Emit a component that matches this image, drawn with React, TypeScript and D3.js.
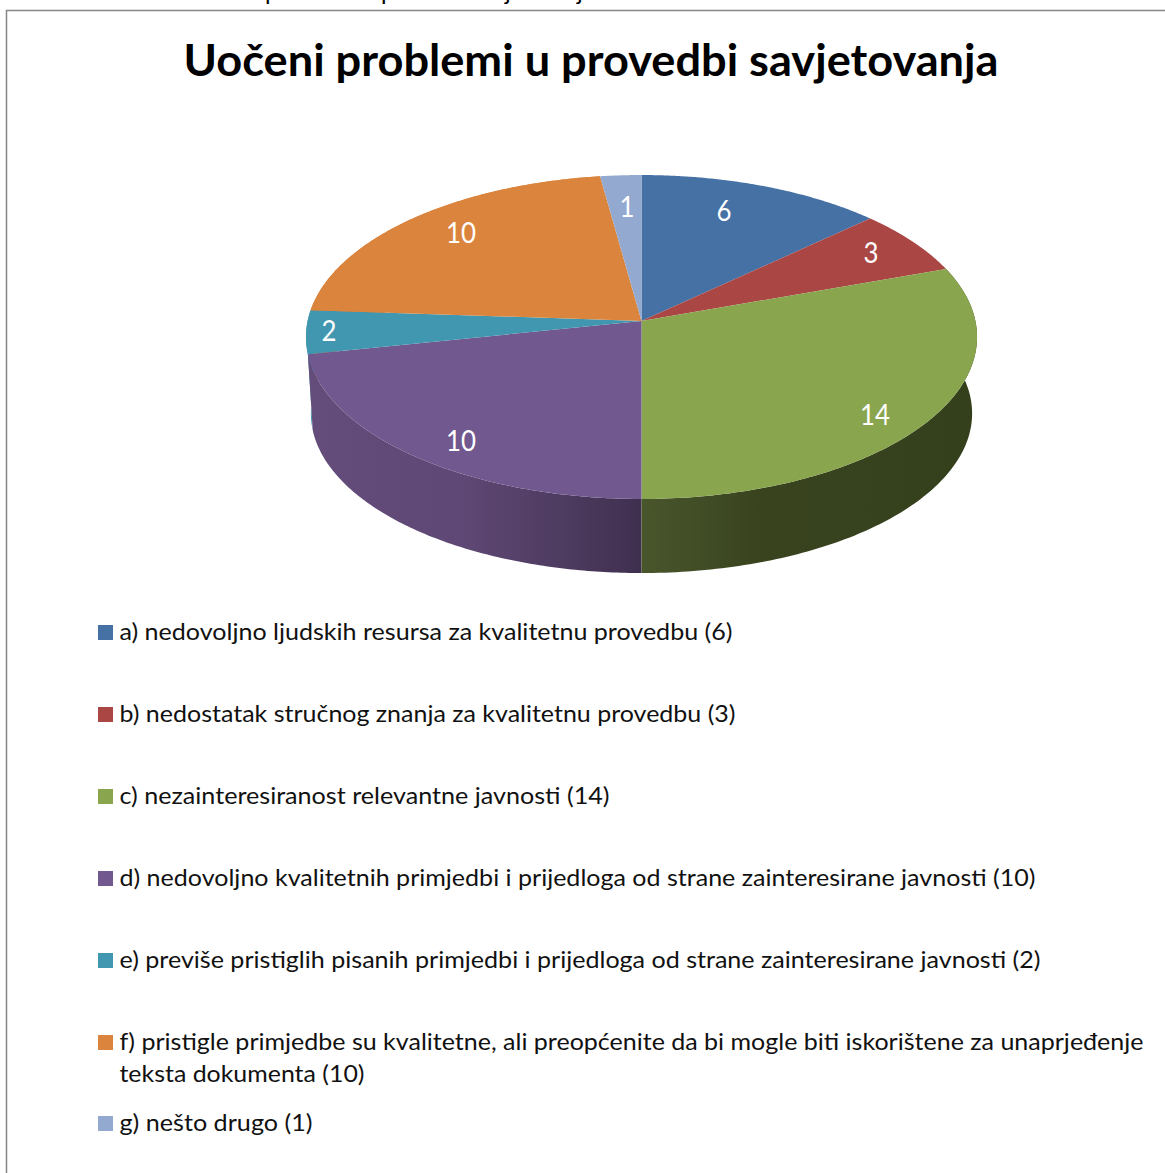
import React from 'react';
import * as d3 from 'd3';

const categories = [
  'a) nedovoljno ljudskih resursa za kvalitetnu provedbu (6)',
  'b) nedostatak stručnog znanja za kvalitetnu provedbu (3)',
  'c) nezainteresiranost relevantne javnosti (14)',
  'd) nedovoljno kvalitetnih primjedbi i prijedloga od strane zainteresirane javnosti (10)',
  'e) previše pristiglih pisanih primjedbi i prijedloga od strane zainteresirane javnosti (2)',
  'f) pristigle primjedbe su kvalitetne, ali preopćenite da bi mogle biti iskorištene za unaprjeđenje',
  'g) nešto drugo (1)',
];
const values = [6, 3, 14, 10, 2, 10, 1];
const colors = ['#4571a5', '#aa4644', '#89a54e', '#71588f', '#4197af', '#db843d', '#93a9cf'];
const legendY = [632, 714, 796, 878, 960, 1042, 1123];
const legendW = [613, 616, 490, 916, 921, 1024, 193];
const labelPos: [number, number][] = [[724, 211], [871, 253], [875, 415], [461, 441], [329, 331], [461, 233], [627, 207]];
const title = 'Uočeni problemi u provedbi savjetovanja';
const continuation = 'teksta dokumenta (10)';

const K = 0.0988;
const project = (ax: number, ay: number, A: number, B: number) => (t: number): [number, number] => {
  const d = 1 + K * Math.cos(t);
  return [ax + (A * Math.sin(t)) / d, ay - (B * Math.cos(t)) / d];
};
const topRim = project(641.5, 321, 333.9, 160.4);
const botRim = project(641.5, 397.7, 329, 158);

const arcPts = (fn: (t: number) => [number, number], a: number, b: number) =>
  d3.range(0, 121).map((i) => fn(a + ((b - a) * i) / 120));
const line = d3.line();

export default function App() {
  const arcs = d3.pie<number>().sort(null)(values);
  const font = 'Lato, Carlito, sans-serif';
  const wallOrder = [5, 4, 3, 2];
  return (
    <svg width={1165} height={1173} style={{ position: 'absolute', left: 0, top: 0, display: 'block' }}>
      <defs>
        <linearGradient id="w3" gradientUnits="userSpaceOnUse" x1={310} x2={642} y1={0} y2={0}>
          <stop offset="0" stopColor="#644c7b" />
          <stop offset="0.45" stopColor="#5f4875" />
          <stop offset="0.75" stopColor="#4f3c61" />
          <stop offset="1" stopColor="#3f2f4f" />
        </linearGradient>
        <linearGradient id="w2" gradientUnits="userSpaceOnUse" x1={642} x2={973} y1={0} y2={0}>
          <stop offset="0" stopColor="#49562c" />
          <stop offset="0.35" stopColor="#39441f" />
          <stop offset="1" stopColor="#343f1c" />
        </linearGradient>
        <clipPath id="topClip"><rect x={0} y={0} width={1165} height={6} /></clipPath>
      </defs>
      <rect width={1165} height={1173} fill="#fff" />
      <path d="M6.5,1173V10.5H1165" fill="none" stroke="#868686" strokeWidth={1.5} />
      <g clipPath="url(#topClip)" fontFamily={font} fontSize={24} fill="#000">
        {[['p', 265], ['p', 381], ['j', 505], ['j', 577]].map(([c, x], i) => (
          <text key={i} x={x as number} y={0}>{c}</text>
        ))}
      </g>
      <text x={591} y={76} textAnchor="middle" fontFamily={font} fontWeight={700} fontSize={44} textLength={815} lengthAdjust="spacingAndGlyphs">{title}</text>
      {wallOrder.map((i) => {
        const a = arcs[i];
        const pts = [...arcPts(topRim, a.startAngle, a.endAngle), ...arcPts(botRim, a.startAngle, a.endAngle).reverse()];
        const fill = i === 3 ? 'url(#w3)' : i === 2 ? 'url(#w2)' : i === 4 ? '#4197af' : '#db843d';
        return <path key={i} d={line(pts) + 'Z'} fill={fill} />;
      })}
      {arcs.map((a, i) => {
        const pts = [[641.5, 321] as [number, number], ...arcPts(topRim, a.startAngle, a.endAngle)];
        return <path key={i} d={line(pts) + 'Z'} fill={colors[i]} />;
      })}
      {values.map((v, i) => (
        <text key={i} x={labelPos[i][0]} y={labelPos[i][1]} dy="0.36em" textAnchor="middle" fontFamily={font} fontSize={28} fill="#fff" textLength={String(v).length * 15} lengthAdjust="spacingAndGlyphs">{v}</text>
      ))}
      {categories.map((c, i) => (
        <g key={i}>
          <rect x={98} y={legendY[i] - 7} width={15} height={15} fill={colors[i]} />
          <text x={119.5} y={legendY[i] + 8} fontFamily={font} fontSize={24} fill="#111" textLength={legendW[i]} lengthAdjust="spacingAndGlyphs">{c}</text>
        </g>
      ))}
      <text x={119.5} y={legendY[5] + 40} fontFamily={font} fontSize={24} fill="#111" textLength={245} lengthAdjust="spacingAndGlyphs">{continuation}</text>
    </svg>
  );
}
